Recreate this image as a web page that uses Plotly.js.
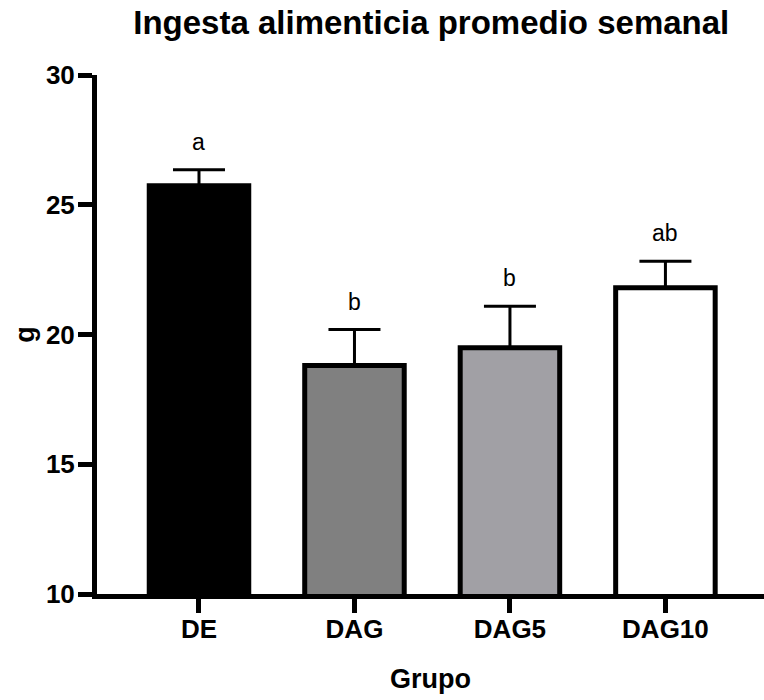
<!DOCTYPE html>
<html>
<head>
<meta charset="utf-8">
<script src="https://cdn.plot.ly/plotly-3.0.1.min.js"></script>
<style>
  html, body { margin: 0; padding: 0; background: #ffffff; }
  #chart { width: 764px; height: 700px; }
</style>
</head>
<body>
<div id="chart"></div>
<script>
// Weekly average food intake per group (g), mean + SEM, with significance letters
const grupos = ['DE', 'DAG', 'DAG5', 'DAG10'];
const ingesta = [25.73, 18.81, 19.49, 21.80];
const errorEstandar = [0.62, 1.38, 1.60, 1.02];
const letras = ['a', 'b', 'b', 'ab'];
const rellenos = ['#000000', '#808080', '#a1a0a5', '#ffffff'];
const yTicks = [10, 15, 20, 25, 30];

const FONT = 'Liberation Sans, Arial, Helvetica, sans-serif';

const trace = {
  type: 'bar',
  x: grupos,
  y: ingesta,
  width: 0.64,
  marker: {
    color: rellenos,
    line: { color: '#000000', width: 5 }
  },
  error_y: {
    type: 'data',
    symmetric: false,
    array: errorEstandar,
    arrayminus: errorEstandar.map(() => 0),
    color: '#000000',
    thickness: 3,
    width: 26
  },
  hoverinfo: 'x+y'
};

const annotations = grupos.map((g, i) => ({
  x: g,
  y: ingesta[i] + errorEstandar[i],
  xref: 'x',
  yref: 'y',
  text: letras[i],
  showarrow: false,
  yanchor: 'bottom',
  yshift: 13,
  font: { family: FONT, size: 23, color: '#000000' }
}));

const layout = {
  width: 764,
  height: 700,
  margin: { l: 97, r: 0, t: 75, b: 106 },
  paper_bgcolor: '#ffffff',
  plot_bgcolor: '#ffffff',
  showlegend: false,
  title: {
    text: '<b>Ingesta alimenticia promedio semanal</b>',
    font: { family: FONT, size: 33, color: '#000000' },
    x: 0.5645,
    xanchor: 'center',
    yref: 'container',
    y: 0.968,
    yanchor: 'middle'
  },
  xaxis: {
    type: 'category',
    range: [-0.656, 3.634],
    showline: true,
    linecolor: '#000000',
    linewidth: 5,
    ticks: 'outside',
    ticklen: 14,
    tickwidth: 5,
    tickcolor: '#000000',
    ticklabelstandoff: -6,
    showgrid: false,
    zeroline: false,
    tickfont: { family: FONT, size: 26, color: '#000000', weight: 'bold' },
    title: {
      text: '<b>Grupo</b>',
      font: { family: FONT, size: 27, color: '#000000' },
      standoff: 27
    },
    fixedrange: true
  },
  yaxis: {
    range: [10, 30],
    tickvals: yTicks,
    ticktext: yTicks.map(String),
    showline: true,
    linecolor: '#000000',
    linewidth: 5,
    ticks: 'outside',
    ticklen: 14,
    tickwidth: 5,
    tickcolor: '#000000',
    ticklabelstandoff: -2,
    showgrid: false,
    zeroline: false,
    tickfont: { family: FONT, size: 26, color: '#000000', weight: 'bold' },
    title: {
      text: '<b>g</b>',
      font: { family: FONT, size: 27, color: '#000000' },
      standoff: 5
    },
    fixedrange: true
  },
  annotations: annotations
};

Plotly.newPlot('chart', [trace], layout, { displayModeBar: false, staticPlot: true });
</script>
</body>
</html>
